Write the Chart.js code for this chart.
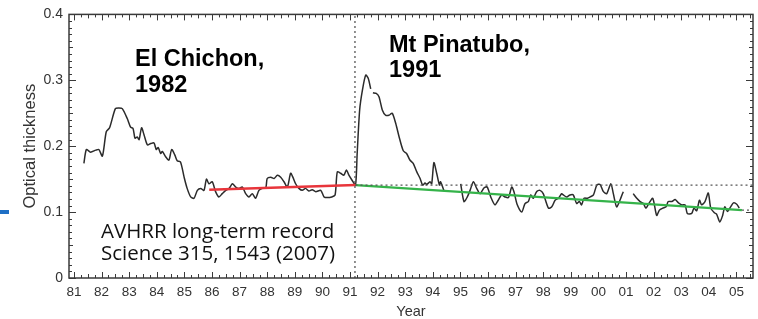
<!DOCTYPE html>
<html><head><meta charset="utf-8">
<script src="https://cdn.jsdelivr.net/npm/chart.js@4.4.0/dist/chart.umd.min.js"></script>
<style>html,body{margin:0;padding:0;background:#fff;}#wrap{position:relative;width:758px;height:319px;}</style>
</head><body><div id="wrap"><canvas id="c" width="758" height="319"></canvas></div>
<script>
// Years since 1900 (monthly-ish AVHRR record), null = data gap
const years = [
81.36,81.45,81.60,81.79,81.90,82.03,82.17,82.29,82.50,82.63,82.75,82.93,83.05,83.14,83.21,83.29,83.36,83.45,83.54,83.66,83.78,83.90,83.98,84.05,84.14,84.20,84.32,84.44,84.54,84.66,84.74,84.86,84.99,85.10,85.23,85.35,85.47,85.59,85.71,85.80,85.89,86.01,86.13,86.25,86.37,86.50,86.62,86.74,86.86,86.98,87.10,87.22,87.34,87.46,87.58,87.70,87.82,87.95,88.00,88.13,88.25,88.37,88.49,88.61,88.73,88.85,88.93,89.03,89.15,89.27,89.39,89.51,89.63,89.76,89.94,90.06,90.18,90.34,90.46,90.54,90.66,90.78,90.87,90.96,91.08,91.20,91.26,91.35,91.45,91.57,91.66,91.75,91.79,91.83,91.95,92.05,92.17,92.29,92.41,92.53,92.66,92.78,92.93,93.05,93.17,93.29,93.42,93.54,93.63,93.72,93.78,93.90,93.96,94.04,94.14,94.24,94.28,94.40,94.70,95.01,95.13,95.25,95.35,95.47,95.59,95.71,95.86,95.97,96.10,96.25,96.37,96.49,96.62,96.74,96.86,96.94,97.06,97.22,97.34,97.46,97.55,97.64,97.76,97.88,98.00,98.19,98.31,98.43,98.55,98.67,98.73,98.85,98.97,99.09,99.21,99.31,99.39,99.48,99.60,99.70,99.82,99.94,100.06,100.18,100.30,100.45,100.54,100.66,100.78,100.90,101.10,101.26,101.39,101.51,101.63,101.72,101.84,101.97,102.11,102.21,102.33,102.45,102.53,102.66,102.78,102.90,103.02,103.14,103.22,103.38,103.46,103.56,103.66,103.74,103.86,103.98,104.07,104.20,104.28,104.40,104.50,104.58,104.67,104.79,104.89,105.01,105.10];
const opticalThickness = [
0.174,0.195,0.191,0.194,0.195,0.185,0.222,0.228,0.257,0.258,0.257,0.242,0.229,0.227,0.212,0.214,0.210,0.228,0.217,0.202,0.204,0.205,0.195,0.198,0.189,0.192,0.184,0.179,0.195,0.186,0.178,0.176,0.153,0.136,0.123,0.121,0.133,0.136,0.133,0.150,0.143,0.146,0.131,0.123,0.128,0.133,0.136,0.143,0.138,0.136,0.138,0.128,0.123,0.128,0.121,0.133,0.136,0.137,0.151,0.153,0.151,0.156,0.153,0.146,0.138,0.159,0.153,0.143,0.136,0.133,0.136,0.132,0.134,0.131,0.133,0.123,0.122,0.123,0.126,0.161,0.159,0.156,0.164,0.156,0.148,0.141,0.189,0.255,0.285,0.308,0.303,0.287,null,0.281,0.280,0.275,0.255,0.247,0.247,0.250,0.234,0.214,0.193,0.189,0.179,0.174,0.161,0.151,0.141,0.144,0.142,0.146,0.143,0.175,0.159,0.141,0.146,0.133,null,0.143,0.116,0.123,0.133,0.146,0.136,0.128,0.137,0.138,0.123,0.111,0.118,0.126,0.123,0.122,0.138,0.131,0.111,0.100,0.113,0.116,0.126,0.121,0.131,0.133,0.128,0.106,0.108,0.118,0.121,0.128,0.126,0.123,0.126,0.126,0.113,0.116,0.111,0.121,0.121,0.123,0.126,0.141,0.142,0.131,0.128,0.143,0.128,0.108,0.118,0.131,null,0.128,0.121,0.116,0.113,0.106,0.114,0.121,0.095,0.103,0.106,0.108,0.116,0.116,0.119,0.114,0.111,0.111,0.098,0.098,0.106,0.102,0.118,0.111,0.116,0.129,0.106,0.099,0.097,0.085,0.095,0.108,0.101,0.108,0.114,0.112,0.106];

const trendPreYears = [85.9, 91.2];
const trendPreValues = [0.134, 0.141];
const trendPostYears = [91.2, 105.2];
const trendPostValues = [0.141, 0.103];
const levelYears = [91.2, 105.6];
const levelValues = [0.141, 0.141];
const endLevelYears = [105.2, 105.6];
const endLevelValues = [0.103, 0.103];
const eruptionYears = [91.18, 91.18];
const eruptionValues = [0, 0.4];

const xTickValues = [81,82,83,84,85,86,87,88,89,90,91,92,93,94,95,96,97,98,99,100,101,102,103,104,105];
const xTickLabels = ['81','82','83','84','85','86','87','88','89','90','91','92','93','94','95','96','97','98','99','00','01','02','03','04','05'];
const yTickValues = [0, 0.1, 0.2, 0.3, 0.4];
const yTickLabels = ['0','0.1','0.2','0.3','0.4'];

const pts = (xs, ys) => xs.map((x, i) => ({x: x, y: ys[i]}));

const frameTicks = {
  id: 'frameTicks',
  afterDatasetsDraw(chart) {
    const {ctx, chartArea: a, scales: {x, y}} = chart;
    ctx.save();
    ctx.strokeStyle = '#3a3a3a';
    ctx.lineWidth = 1;
    for (let v = 81; v <= 105.6 + 1e-6; v += 0.25) {
      const px = Math.round(x.getPixelForValue(v)) + 0.5;
      const frac = v - Math.floor(v);
      const major = frac < 1e-6;
      const half = Math.abs(frac - 0.5) < 1e-6;
      const len = major ? 6 : (half ? 4 : 3);
      ctx.beginPath();
      ctx.moveTo(px, a.bottom); ctx.lineTo(px, a.bottom - len);
      ctx.moveTo(px, a.top); ctx.lineTo(px, a.top + len);
      ctx.stroke();
    }
    for (let k = 0; k <= 40; k++) {
      const v = k / 100;
      const py = Math.round(y.getPixelForValue(v)) + 0.5;
      const len = (k % 10 === 0) ? 7 : ((k % 5 === 0) ? 4 : 3);
      ctx.beginPath();
      ctx.moveTo(a.left, py); ctx.lineTo(a.left + len, py);
      ctx.moveTo(a.right, py); ctx.lineTo(a.right - len, py);
      ctx.stroke();
    }
    ctx.lineWidth = 1.5;
    ctx.strokeRect(a.left, a.top, a.right - a.left, a.bottom - a.top);
    ctx.restore();
  }
};

const notes = {
  id: 'notes',
  afterDraw(chart) {
    const ctx = chart.ctx;
    ctx.save();
    ctx.fillStyle = '#000';
    ctx.textBaseline = 'alphabetic';
    ctx.textAlign = 'left';
    ctx.font = 'bold 23.5px "Liberation Sans", Arial, sans-serif';
    ctx.fillText('El Chichon,', 135, 66);
    ctx.fillText('1982', 135, 92);
    ctx.fillText('Mt Pinatubo,', 389, 52);
    ctx.fillText('1991', 389, 77);
    ctx.font = '20.5px "Open Sans", sans-serif';
    ctx.fillStyle = '#111';
    ctx.fillText('AVHRR long-term record', 101, 238);
    ctx.fillText('Science 315, 1543 (2007)', 101, 260);
    ctx.fillStyle = '#1f6fc5';
    ctx.fillRect(0, 210, 9, 4);
    ctx.restore();
  }
};

const dotted = {borderColor: '#555', borderWidth: 1.3, borderDash: [2, 3], pointRadius: 0, tension: 0, fill: false};

new Chart(document.getElementById('c'), {
  type: 'line',
  data: {
    datasets: [
      Object.assign({label: 'Eruption', data: pts(eruptionYears, eruptionValues)}, dotted),
      Object.assign({label: 'Level', data: pts(levelYears, levelValues)}, dotted),
      Object.assign({label: 'End level', data: pts(endLevelYears, endLevelValues)}, dotted),
      {label: 'Trend 1985-1991', data: pts(trendPreYears, trendPreValues), borderColor: '#e8353b', borderWidth: 2.5, pointRadius: 0, tension: 0},
      {label: 'Trend 1991-2005', data: pts(trendPostYears, trendPostValues), borderColor: '#35b34a', borderWidth: 2.2, pointRadius: 0, tension: 0},
      {label: 'Optical thickness', data: pts(years, opticalThickness), borderColor: '#2b2b2b', borderWidth: 1.5, pointRadius: 0, tension: 0.25, spanGaps: false}
    ]
  },
  options: {
    responsive: false,
    animation: false,
    devicePixelRatio: 1,
    layout: {padding: {top: 14, right: 5, left: 0, bottom: 0}},
    plugins: {legend: {display: false}, tooltip: {enabled: false}},
    scales: {
      x: {
        type: 'linear', min: 80.82, max: 105.6,
        grid: {display: false, drawTicks: false}, border: {display: false},
        afterBuildTicks: s => { s.ticks = xTickValues.map(v => ({value: v})); },
        afterFit: s => { s.height = 41; },
        ticks: {
          autoSkip: false, maxRotation: 0, padding: 6, color: '#333',
          font: {family: '"Liberation Sans", Arial, sans-serif', size: 13.5},
          callback: (v) => { const i = xTickValues.indexOf(Math.round(v)); return i >= 0 ? xTickLabels[i] : ''; }
        },
        title: {display: true, text: 'Year', color: '#333', padding: {top: 0, bottom: 0},
          font: {family: '"Liberation Sans", Arial, sans-serif', size: 14.5, lineHeight: 1}}
      },
      y: {
        type: 'linear', min: 0, max: 0.4,
        grid: {display: false, drawTicks: false}, border: {display: false},
        afterBuildTicks: s => { s.ticks = yTickValues.map(v => ({value: v})); },
        afterFit: s => { s.width = 69; },
        ticks: {
          padding: 6, color: '#333',
          font: {family: '"Liberation Sans", Arial, sans-serif', size: 14},
          callback: (v) => { const i = yTickValues.findIndex(t => Math.abs(t - v) < 1e-9); return i >= 0 ? yTickLabels[i] : ''; }
        },
        title: {display: true, text: 'Optical thickness', color: '#333', padding: {top: 22, bottom: 0},
          font: {family: '"Liberation Sans", Arial, sans-serif', size: 16.5, lineHeight: 1}}
      }
    }
  },
  plugins: [frameTicks, notes]
});
</script>
</body></html>
